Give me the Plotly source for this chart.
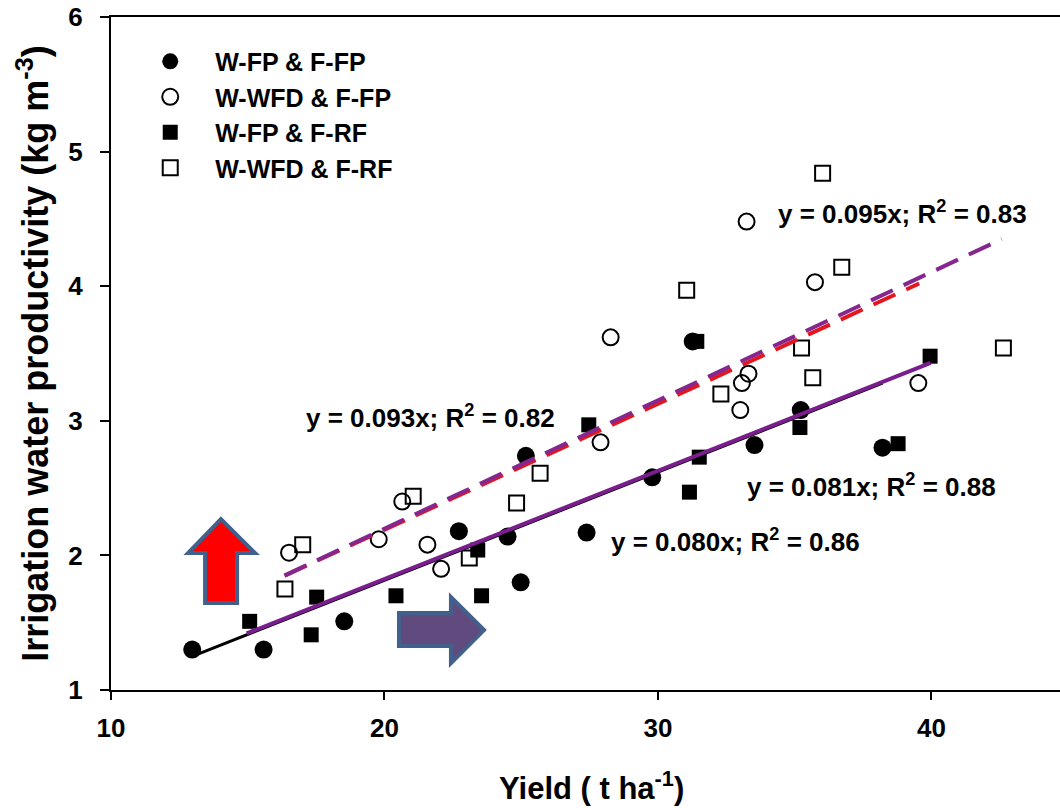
import plotly.graph_objects as go

# ---- data ----
fpfp_x = [12.97, 15.58, 18.53, 22.72, 24.50, 24.98, 25.17, 27.39, 29.79, 33.53, 35.22, 38.21, 31.27]
fpfp_y = [1.30, 1.30, 1.51, 2.18, 2.14, 1.80, 2.74, 2.17, 2.58, 2.82, 3.08, 2.80, 3.59]

wfdfp_x = [16.51, 20.65, 19.79, 21.57, 22.07, 27.90, 28.27, 33.01, 33.07, 33.31, 39.52, 33.24, 35.74]
wfdfp_y = [2.02, 2.40, 2.12, 2.08, 1.90, 2.84, 3.62, 3.08, 3.28, 3.35, 3.28, 4.48, 4.03]

fprf_x = [15.07, 17.32, 17.52, 20.42, 23.55, 23.41, 27.47, 31.51, 31.15, 35.19, 38.78, 39.95, 31.42]
fprf_y = [1.51, 1.41, 1.69, 1.70, 1.70, 2.04, 2.97, 2.73, 2.47, 2.95, 2.83, 3.48, 3.59]

wfdrf_x = [16.36, 17.01, 21.05, 23.10, 24.83, 25.69, 32.30, 35.25, 35.66, 42.63, 31.05, 36.02, 36.72]
wfdrf_y = [1.75, 2.08, 2.44, 1.98, 2.39, 2.61, 3.20, 3.54, 3.32, 3.54, 3.97, 4.84, 4.14]

# fitted lines (end points)
fit_black_x = [12.97, 38.21]
fit_black_y = [1.25, 3.28]
fit_purple_x = [14.96, 39.97]
fit_purple_y = [1.42, 3.43]
fit_red_x = [16.36, 39.55]
fit_red_y = [1.85, 4.02]
fit_purpled_x = [16.34, 42.57]
fit_purpled_y = [1.85, 4.35]

eq_texts = ["y = 0.095x; R<sup>2</sup> = 0.83", "y = 0.093x; R<sup>2</sup> = 0.82",
            "y = 0.081x; R<sup>2</sup> = 0.88", "y = 0.080x; R<sup>2</sup> = 0.86"]
eq_x = [34.30, 17.05, 33.20, 28.20]
eq_y = [4.55, 3.03, 2.52, 2.11]

series_names = ["W-FP &amp; F-FP", "W-WFD &amp; F-FP", "W-FP &amp; F-RF", "W-WFD &amp; F-RF"]

x_ticks = [10, 20, 30, 40]
y_ticks = [1, 2, 3, 4, 5, 6]

# decorative arrows (data coordinates)
up_arrow = [(14.02, 2.27), (15.27, 2.017), (14.61, 2.017), (14.61, 1.646),
            (13.44, 1.646), (13.44, 2.017), (12.82, 2.017)]
right_arrow = [(20.53, 1.572), (22.43, 1.572), (22.43, 1.690), (23.64, 1.445),
               (22.43, 1.200), (22.43, 1.327), (20.53, 1.327)]

FONT = "Liberation Sans, Arial, sans-serif"

fig = go.Figure()

fig.add_trace(go.Scatter(x=fpfp_x, y=fpfp_y, mode="markers", name=series_names[0],
                         marker=dict(symbol="circle", size=18, color="black")))
fig.add_trace(go.Scatter(x=wfdfp_x, y=wfdfp_y, mode="markers", name=series_names[1],
                         marker=dict(symbol="circle-open", size=16, color="black",
                                     line=dict(width=2, color="black"))))
fig.add_trace(go.Scatter(x=fprf_x, y=fprf_y, mode="markers", name=series_names[2],
                         marker=dict(symbol="square", size=15, color="black")))
fig.add_trace(go.Scatter(x=wfdrf_x, y=wfdrf_y, mode="markers", name=series_names[3],
                         marker=dict(symbol="square-open", size=15, color="black",
                                     line=dict(width=2, color="black"))))

fig.add_trace(go.Scatter(x=fit_black_x, y=fit_black_y, mode="lines", showlegend=False,
                         line=dict(color="black", width=3)))
fig.add_trace(go.Scatter(x=fit_purple_x, y=fit_purple_y, mode="lines", showlegend=False,
                         line=dict(color="#7A1E8E", width=4)))
fig.add_trace(go.Scatter(x=fit_red_x, y=fit_red_y, mode="lines", showlegend=False,
                         line=dict(color="#E3161E", width=4, dash="24px,12px")))
fig.add_trace(go.Scatter(x=fit_purpled_x, y=fit_purpled_y, mode="lines", showlegend=False,
                         line=dict(color="#85278F", width=4, dash="24px,12px")))

def path_of(pts):
    return "M " + " L ".join(f"{x},{y}" for x, y in pts) + " Z"

fig.add_shape(type="path", path=path_of(up_arrow), xref="x", yref="y",
              fillcolor="#FF0000", line=dict(color="#41618C", width=4), layer="above")
fig.add_shape(type="path", path=path_of(right_arrow), xref="x", yref="y",
              fillcolor="#614A7D", line=dict(color="#41618C", width=4), layer="above")

for t, x, y in zip(eq_texts, eq_x, eq_y):
    fig.add_annotation(text=t, x=x, y=y, xref="x", yref="y", showarrow=False,
                       xanchor="left", yanchor="middle",
                       font=dict(family=FONT, size=26, color="black", weight="bold"))

# axis titles
fig.add_annotation(text="Irrigation water productivity (kg m<sup>-3</sup>)",
                   x=-0.083, y=0.5, xref="paper", yref="paper", showarrow=False,
                   textangle=-90, xanchor="center", yanchor="middle",
                   font=dict(family=FONT, size=36, color="black", weight="bold"))
fig.add_annotation(text="Yield ( t ha<sup>-1</sup>)",
                   x=0.506, y=-0.143, xref="paper", yref="paper", showarrow=False,
                   xanchor="center", yanchor="middle",
                   font=dict(family=FONT, size=31, color="black", weight="bold"))

fig.update_layout(
    width=1060, height=808,
    margin=dict(l=111, r=0, t=17, b=118),
    paper_bgcolor="white", plot_bgcolor="white",
    showlegend=True,
    legend=dict(x=0.015, y=0.968, xanchor="left", yanchor="top",
                bgcolor="rgba(0,0,0,0)", itemwidth=80,
                font=dict(family=FONT, size=25, color="black", weight="bold"),
                tracegroupgap=0),
    xaxis=dict(range=[10, 44.7], tickvals=x_ticks, showgrid=False, zeroline=False,
               showline=True, linecolor="black", linewidth=2, mirror=True,
               ticks="outside", ticklen=8, tickwidth=2, tickcolor="black",
               tickfont=dict(family=FONT, size=26, color="black", weight="bold"),
               ticklabelstandoff=6),
    yaxis=dict(range=[1, 6], tickvals=y_ticks, showgrid=False, zeroline=False,
               showline=True, linecolor="black", linewidth=2,
               ticks="outside", ticklen=9, tickwidth=2, tickcolor="black",
               tickfont=dict(family=FONT, size=26, color="black", weight="bold"),
               ticklabelstandoff=12),
)

fig.write_html("out.html")
